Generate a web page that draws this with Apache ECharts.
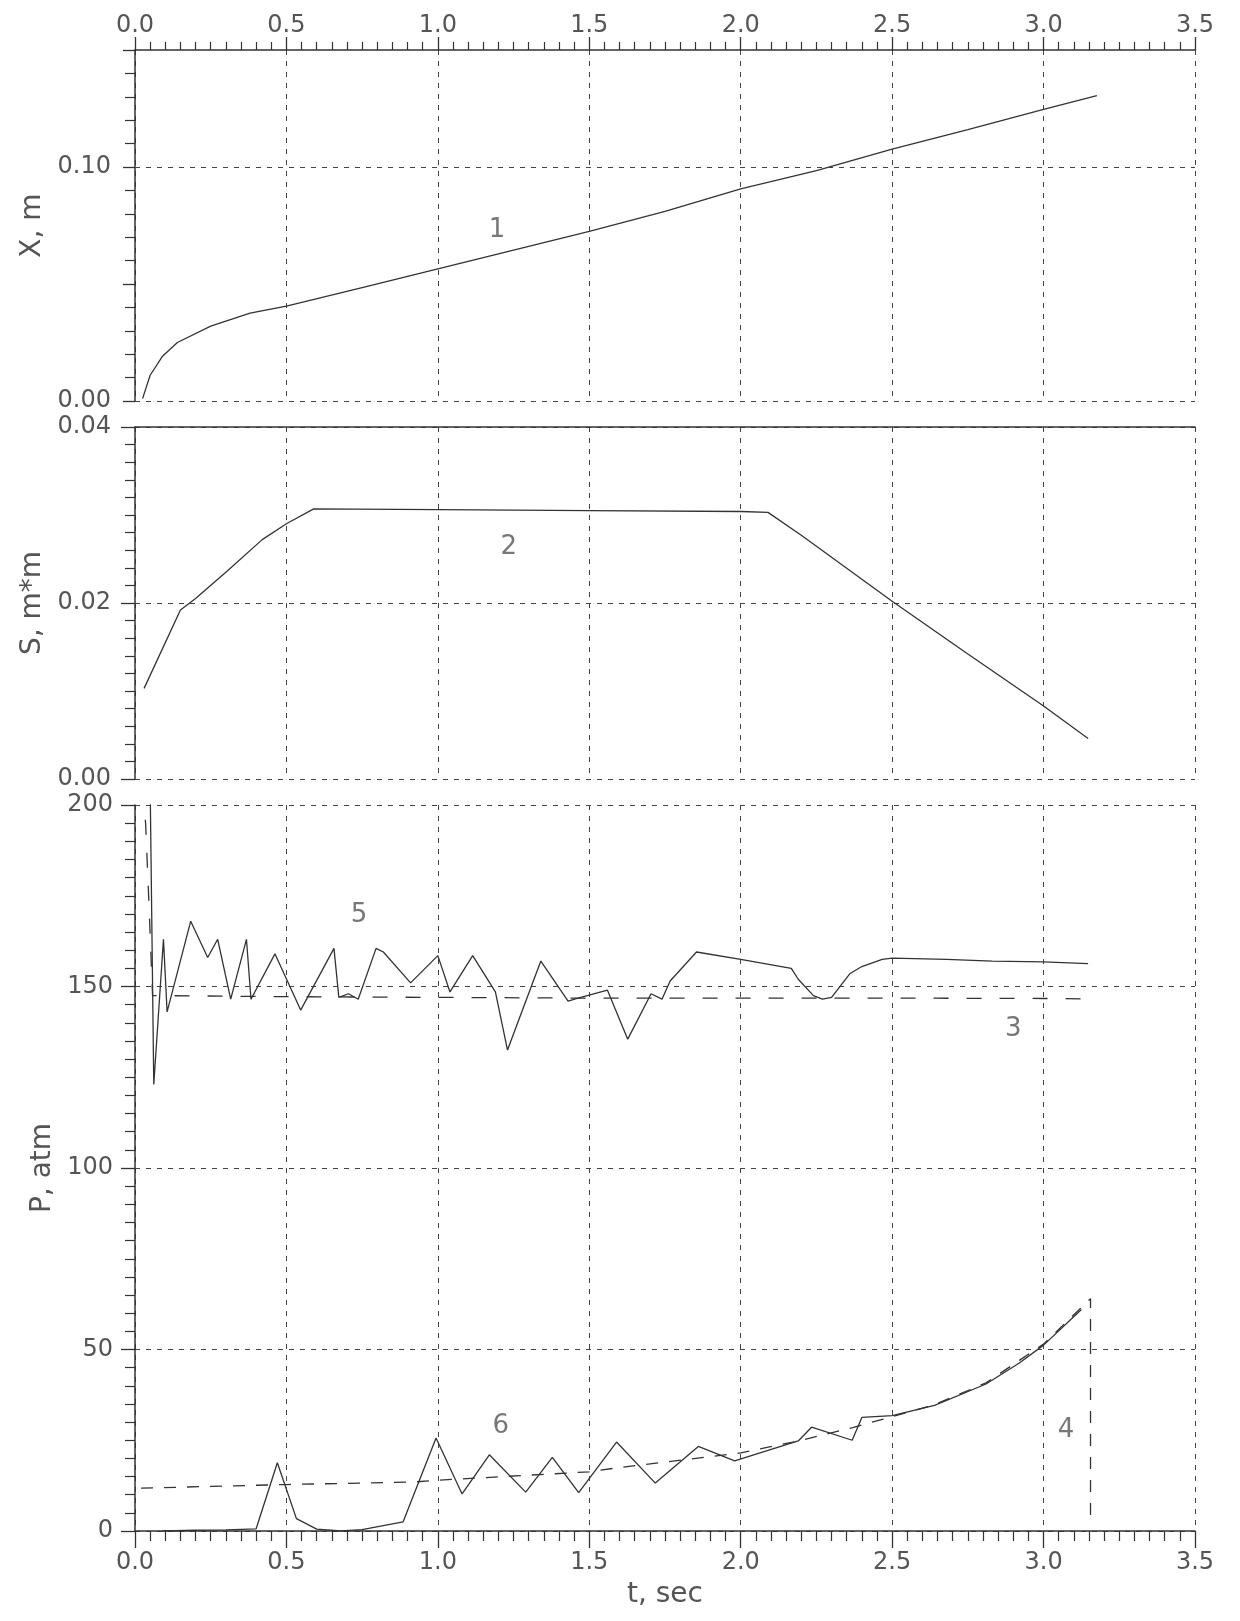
<!DOCTYPE html>
<html>
<head>
<meta charset="utf-8">
<script src="https://cdn.jsdelivr.net/npm/echarts@6.0.0/dist/echarts.min.js"></script>
<style>
html,body{margin:0;padding:0;background:#ffffff;}
#chart{width:1240px;height:1621px;}
</style>
</head>
<body>
<div id="chart"></div>
<script>
// ---------------- data ----------------
// time axis tick labels (shared by all panels)
const tTickValues = [0, 0.5, 1.0, 1.5, 2.0, 2.5, 3.0, 3.5];
const tTickLabels = ['0.0', '0.5', '1.0', '1.5', '2.0', '2.5', '3.0', '3.5'];

// panel 1: X, m
const xPanelTickValues = [0, 0.10];
const xPanelTickLabels = ['0.00', '0.10'];
const xGridValues = [0, 0.10];
const tCurve1 = [0.025, 0.05, 0.09, 0.14, 0.25, 0.38, 0.5, 0.75, 1.0, 1.25, 1.5, 1.75, 2.0, 2.25, 2.5, 2.75, 3.0, 3.176];
const xCurve1 = [0.001, 0.011, 0.019, 0.025, 0.032, 0.0376, 0.0405, 0.0485, 0.0565, 0.0645, 0.0725, 0.081, 0.0907, 0.0985, 0.1076, 0.116, 0.1246, 0.1305];

// panel 2: S, m*m
const sPanelTickValues = [0, 0.02, 0.04];
const sPanelTickLabels = ['0.00', '0.02', '0.04'];
const tCurve2 = [0.03, 0.15, 0.2, 0.3, 0.42, 0.5, 0.59, 1.0, 1.5, 2.0, 2.09, 2.2, 2.5, 2.75, 3.0, 3.147];
const sCurve2 = [0.0103, 0.0192, 0.0205, 0.0235, 0.0272, 0.0290, 0.0307, 0.0306, 0.0305, 0.0304, 0.0303, 0.0277, 0.0202, 0.0142, 0.0083, 0.0046];

// panel 3: P, atm
const pPanelTickValues = [0, 50, 100, 150, 200];
const pPanelTickLabels = ['0', '50', '100', '150', '200'];
// curve 5 (solid)
const tCurve5 = [0.005, 0.045, 0.062, 0.094, 0.106, 0.184, 0.24, 0.273, 0.316, 0.368, 0.383, 0.462, 0.547, 0.657, 0.673, 0.705, 0.737, 0.796, 0.82, 0.91, 1.0, 1.04, 1.115, 1.19, 1.23, 1.34, 1.43, 1.463, 1.56, 1.627, 1.704, 1.74, 1.767, 1.854, 2.0, 2.167, 2.19, 2.24, 2.27, 2.3, 2.36, 2.4, 2.467, 2.5, 2.68, 2.83, 3.0, 3.147];
const pCurve5 = [240, 240, 123, 163, 143, 168, 158, 163, 146.5, 163, 146.5, 159, 143.5, 160.5, 147, 148, 146.5, 160.5, 159.5, 151, 158.5, 148.5, 158.5, 148.5, 132.5, 157, 146, 146.8, 149, 135.5, 148, 146.5, 151.5, 159.5, 157.5, 155, 152, 147.5, 146.5, 147, 153.5, 155.5, 157.5, 157.8, 157.5, 157, 156.8, 156.3];
// curve 3 (long dashes)
const tCurve3 = [0.025, 0.035, 0.045, 0.058, 0.5, 1.0, 1.5, 2.0, 2.5, 3.0, 3.125];
const pCurve3 = [205, 195, 175, 147.5, 147.2, 147.0, 146.8, 146.8, 146.8, 146.7, 146.6];
// curve 6 (solid)
const tCurve6 = [0.09, 0.2, 0.3, 0.40, 0.47, 0.533, 0.6, 0.68, 0.75, 0.885, 0.994, 1.08, 1.17, 1.29, 1.378, 1.465, 1.59, 1.718, 1.86, 1.98, 2.19, 2.234, 2.368, 2.4, 2.5, 2.64, 2.81, 2.92, 3.0, 3.125];
const pCurve6 = [0, 0.2, 0.3, 0.6, 18.8, 3.4, 0.5, 0, 0.4, 2.5, 25.6, 10.2, 21, 10.7, 20.3, 10.6, 24.5, 13.2, 23.3, 19.3, 24.8, 28.6, 25, 31.3, 31.8, 34.6, 40.5, 46.3, 51.2, 61];
// curve 4 (dashed)
const tCurve4 = [0.02, 0.4, 0.5, 0.92, 1.0, 1.5, 1.6, 2.0, 2.19, 2.37, 2.5, 2.64, 2.81, 2.92, 3.0, 3.13, 3.155, 3.155];
const pCurve4 = [11.8, 12.6, 12.8, 13.5, 14.0, 16.3, 17.5, 21.5, 24.8, 28.5, 31.5, 34.8, 40.8, 47.0, 51.5, 62.0, 64.0, 2.0];

// curve number labels: [t, value]
const labelsPanel1 = [{name: '1', t: 1.195, v: 0.073}];
const labelsPanel2 = [{name: '2', t: 1.234, v: 0.0263}];
const labelsPanel3 = [
  {name: '5', t: 0.74, v: 169.5},
  {name: '3', t: 2.90, v: 138.3},
  {name: '6', t: 1.208, v: 28.8},
  {name: '4', t: 3.074, v: 27.8}
];

// ---------------- helpers ----------------
const zip = (a, b) => a.map((v, i) => [v, b[i]]);
const lookup = (vals, labels) => (v) => {
  const i = vals.findIndex(a => Math.abs(a - v) < 1e-9);
  return i >= 0 ? labels[i] : '';
};

const INK = '#333';
const TXT = '#555';
const FONT = 'DejaVu Sans';
const gridDash = {type: [5, 6], color: '#444', width: 1};

function tAxis(gridIndex, opts) {
  return Object.assign({
    type: 'value', gridIndex: gridIndex, min: 0, max: 3.5, interval: 0.5,
    axisLine: {show: true, onZero: false, lineStyle: {color: INK, width: 1.5}},
    axisTick: {show: true, inside: false, length: 14, lineStyle: {color: INK, width: 1.3}},
    minorTick: {show: true, splitNumber: 10, length: 9, lineStyle: {color: INK, width: 1.2}},
    splitLine: {show: true, lineStyle: gridDash},
    minorSplitLine: {show: false},
    axisLabel: {show: true, formatter: lookup(tTickValues, tTickLabels), color: TXT, fontSize: 24, fontFamily: FONT}
  }, opts);
}

function valAxis(gridIndex, opts) {
  return Object.assign({
    type: 'value', gridIndex: gridIndex, position: 'left',
    axisLine: {show: true, onZero: false, lineStyle: {color: INK, width: 1.5}},
    axisTick: {show: true, inside: false, length: 14, lineStyle: {color: INK, width: 1.3}},
    minorTick: {show: true, length: 10, lineStyle: {color: INK, width: 1.2}},
    splitLine: {show: true, lineStyle: gridDash},
    nameLocation: 'middle', nameRotate: 90, nameGap: 78,
    nameTextStyle: {color: TXT, fontSize: 28, fontFamily: FONT}
  }, opts);
}

function curve(data, xi, yi, dash, extra) {
  return Object.assign({
    type: 'line', xAxisIndex: xi, yAxisIndex: yi, data: data,
    showSymbol: false, symbol: 'none', clip: true, silent: true,
    lineStyle: {color: INK, width: 1.3, type: dash || 'solid'}
  }, extra || {});
}

function labelSeries(items, xi, yi) {
  return {
    type: 'scatter', xAxisIndex: xi, yAxisIndex: yi, silent: true,
    symbolSize: 1, itemStyle: {color: 'rgba(0,0,0,0)'},
    data: items.map(o => ({name: o.name, value: [o.t, o.v]})),
    label: {show: true, position: 'inside', formatter: p => p.name, color: TXT, fontSize: 26, fontFamily: FONT}
  };
}

const option = {
  animation: false,
  backgroundColor: '#ffffff',
  grid: [
    {left: 135, right: 45, top: 50, height: 351, containLabel: false, outerBoundsMode: 'none'},
    {left: 135, right: 45, top: 427, height: 352, containLabel: false, outerBoundsMode: 'none'},
    {left: 135, right: 45, top: 805, height: 726, containLabel: false, outerBoundsMode: 'none'}
  ],
  xAxis: [
    tAxis(0, {position: 'top', axisLabel: {show: true, formatter: lookup(tTickValues, tTickLabels), color: TXT, fontSize: 24, fontFamily: FONT, margin: 12},
      axisTick: {show: true, length: 13, lineStyle: {color: INK, width: 1.3}},
      minorTick: {show: true, splitNumber: 10, length: 8, lineStyle: {color: INK, width: 1.2}}}),
    tAxis(1, {position: 'top', axisTick: {show: false}, minorTick: {show: false}, axisLabel: {show: false}}),
    tAxis(2, {position: 'bottom', name: 't, sec', nameLocation: 'middle', nameGap: 50,
      nameTextStyle: {color: TXT, fontSize: 28, fontFamily: FONT},
      axisTick: {show: true, length: 17, lineStyle: {color: INK, width: 1.3}},
      minorTick: {show: true, splitNumber: 10, length: 10, lineStyle: {color: INK, width: 1.2}},
      axisLabel: {show: true, formatter: lookup(tTickValues, tTickLabels), color: TXT, fontSize: 24, fontFamily: FONT, margin: 20}})
  ],
  yAxis: [
    valAxis(0, {min: 0, max: 0.15, interval: 0.05, name: 'X, m',
      minorTick: {show: true, splitNumber: 5, length: 10, lineStyle: {color: INK, width: 1.2}},
      axisTick: {show: true, length: 12, lineStyle: {color: INK, width: 1.3}},
      splitLine: {show: false},
      axisLabel: {formatter: lookup(xPanelTickValues, xPanelTickLabels), color: TXT, fontSize: 24, fontFamily: FONT, margin: 24}}),
    valAxis(1, {min: 0, max: 0.04, interval: 0.02, name: 'S, m*m',
      minorTick: {show: true, splitNumber: 10, length: 10, lineStyle: {color: INK, width: 1.2}},
      axisLabel: {formatter: lookup(sPanelTickValues, sPanelTickLabels), color: TXT, fontSize: 24, fontFamily: FONT, margin: 24}}),
    valAxis(2, {min: 0, max: 200, interval: 50, name: 'P, atm',
      minorTick: {show: true, splitNumber: 10, length: 10, lineStyle: {color: INK, width: 1.2}},
      axisLabel: {formatter: lookup(pPanelTickValues, pPanelTickLabels), color: TXT, fontSize: 24, fontFamily: FONT, margin: 22}})
  ],
  series: [
    curve(zip(tCurve1, xCurve1), 0, 0, 'solid', {
      markLine: {silent: true, symbol: 'none', label: {show: false}, lineStyle: gridDash,
        data: xGridValues.map(v => ({yAxis: v}))}
    }),
    labelSeries(labelsPanel1, 0, 0),
    curve(zip(tCurve2, sCurve2), 1, 1),
    labelSeries(labelsPanel2, 1, 1),
    curve(zip(tCurve5, pCurve5), 2, 2),
    curve(zip(tCurve3, pCurve3), 2, 2, [15, 18]),
    curve(zip(tCurve6, pCurve6), 2, 2),
    curve(zip(tCurve4, pCurve4), 2, 2, [12, 11]),
    labelSeries(labelsPanel3, 2, 2)
  ]
};

const chart = echarts.init(document.getElementById('chart'), null, {renderer: 'canvas', width: 1240, height: 1621});
chart.setOption(option);
</script>
</body>
</html>
